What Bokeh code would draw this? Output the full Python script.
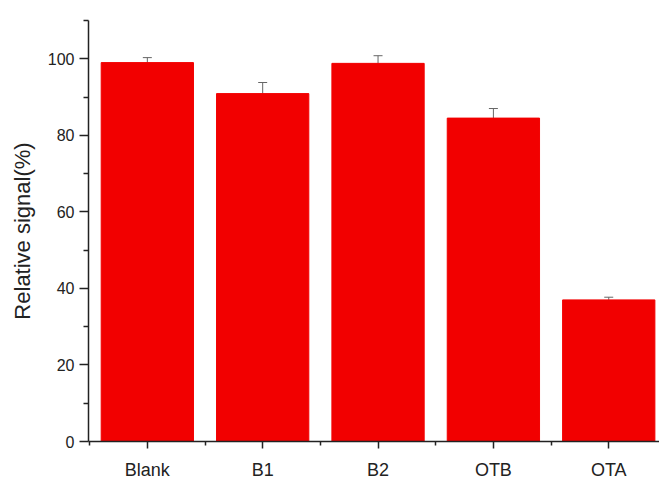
from bokeh.plotting import figure
from bokeh.models import FixedTicker, ColumnDataSource, Whisker, TeeHead
from bokeh.embed import file_html
from bokeh.resources import INLINE

categories = ["Blank", "B1", "B2", "OTB", "OTA"]
values = [99.0, 90.9, 98.8, 84.5, 37.0]
errors = [1.3, 2.9, 2.0, 2.5, 0.7]

xs = list(range(1, len(categories) + 1))
upper = [v + e for v, e in zip(values, errors)]
lower = [v for v in values]
src = ColumnDataSource(dict(x=xs, top=values, upper=upper, lower=lower))

p = figure(width=659, height=482, output_backend="svg", toolbar_location=None,
           x_range=(0.49, 5.44), y_range=(0, 110),
           min_border_left=88, min_border_right=0, min_border_top=20, min_border_bottom=38)
p.outline_line_color = None
p.grid.visible = False
p.border_fill_color = "white"

p.vbar(x="x", top="top", width=0.8, bottom=0, source=src, fill_color="#F20000", line_color="#F20000")
w = Whisker(base="x", upper="upper", lower="lower", source=src, line_color="#666666", line_width=1,
            upper_head=TeeHead(size=9, line_color="#666666", line_width=1), lower_head=None)
p.add_layout(w)

p.xaxis.ticker = FixedTicker(ticks=xs, minor_ticks=[0.5, 1.5, 2.5, 3.5, 4.5, 5.5])
p.xaxis.major_label_overrides = {i: c for i, c in zip(xs, categories)}
p.yaxis.ticker = FixedTicker(ticks=[0, 20, 40, 60, 80, 100], minor_ticks=[10, 30, 50, 70, 90, 110])

for ax in (p.xaxis, p.yaxis):
    ax.axis_line_color = "#222222"
    ax.axis_line_width = 1.5
    ax.major_tick_line_color = "#222222"
    ax.major_tick_line_width = 1.5
    ax.minor_tick_line_color = "#222222"
    ax.minor_tick_line_width = 1.5
    ax.major_tick_in = 0
    ax.minor_tick_in = 0
    ax.major_label_text_font = "Liberation Sans"
    ax.major_label_text_color = "#222222"

p.yaxis.major_label_text_font_size = "16px"
p.xaxis.major_label_text_font_size = "18px"
p.yaxis.major_tick_out = 9
p.yaxis.minor_tick_out = 5
p.xaxis.major_tick_out = 7
p.xaxis.minor_tick_out = 4
p.yaxis.major_label_standoff = 5
p.xaxis.major_label_standoff = 11

p.yaxis.axis_label = "Relative signal(%)"
p.yaxis.axis_label_text_font = "Liberation Sans"
p.yaxis.axis_label_text_font_size = "22px"
p.yaxis.axis_label_text_font_style = "normal"
p.yaxis.axis_label_text_color = "#222222"
p.yaxis.axis_label_standoff = 10

open("out.html", "w").write(file_html(p, INLINE))
